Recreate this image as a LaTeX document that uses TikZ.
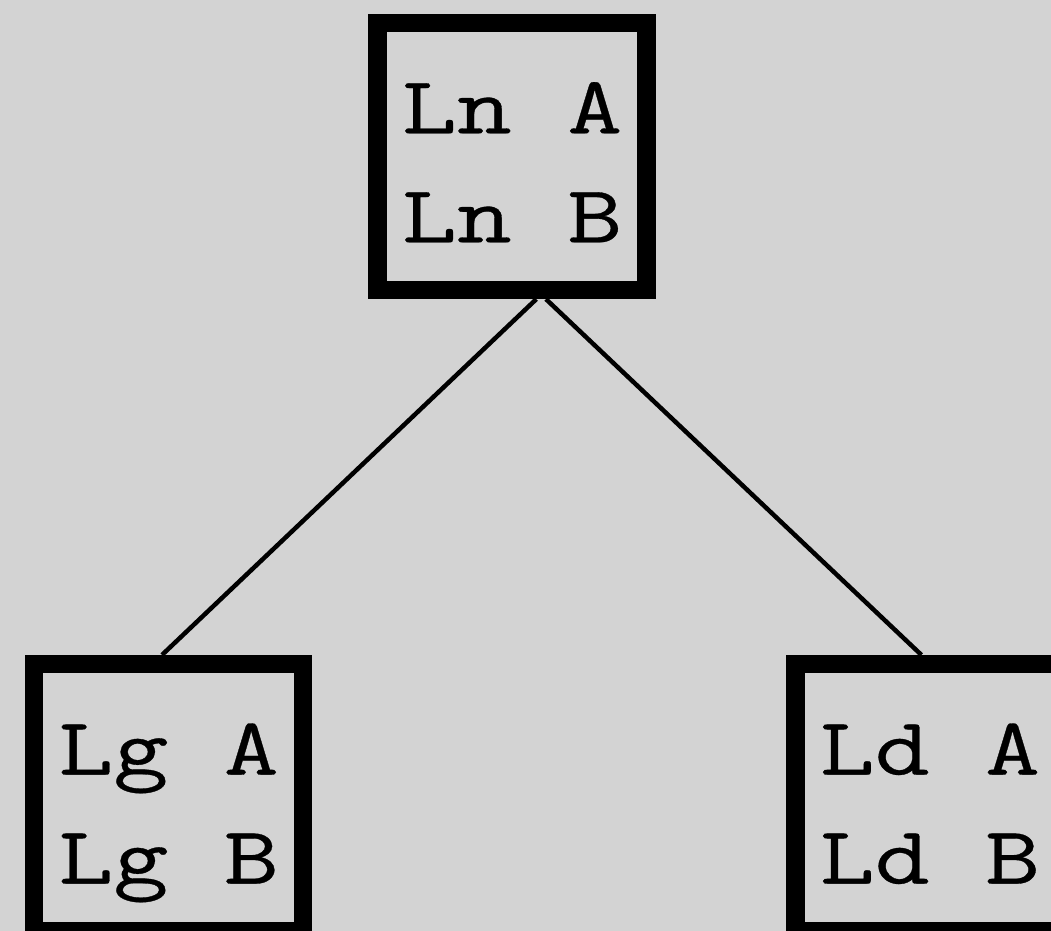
\documentclass[tikz,border=0pt]{standalone}
\usepackage{fontspec}
\setmonofont{Latin Modern Mono}[FakeStretch=1.31, FakeBold=0.4]
\usetikzlibrary{trees}
\definecolor{bggray}{RGB}{211,211,211}

\begin{document}
\begin{tikzpicture}
    [
        every node/.append style = {draw, line width = 9.25pt, fill = bggray, align = center,
            minimum width = 134.5pt, minimum height = 133.5pt, inner sep = 0pt,
            text height = 85.9pt, text depth = 0pt,
            font = \fontsize{40.9}{54.5}\selectfont\ttfamily},
        edge from parent/.style = {draw, line width = 2.25pt},
        grow via three points={one child at (0,-320.65pt) and two children at (-171.75pt,-320.65pt) and (208.9pt,-320.65pt)}]

    \fill [bggray] (0,0) rectangle (525.5pt,-465.5pt);
    \useasboundingbox (0,0) rectangle (525.5pt,-465.5pt);

    \node (ln) at (256pt,-78.2pt) {Ln A\\Ln B}
    child [edge from parent path={([xshift=12.15pt]\tikzparentnode.south) -- ([xshift=-3.25pt]\tikzchildnode.north)}]
        {node (lg) {Lg A\\Lg B}}
    child [edge from parent path={([xshift=17pt]\tikzparentnode.south) -- ([xshift=-4.2pt]\tikzchildnode.north)}]
        {node (ld) {Ld A\\Ld B}};

\end{tikzpicture}
\end{document}
